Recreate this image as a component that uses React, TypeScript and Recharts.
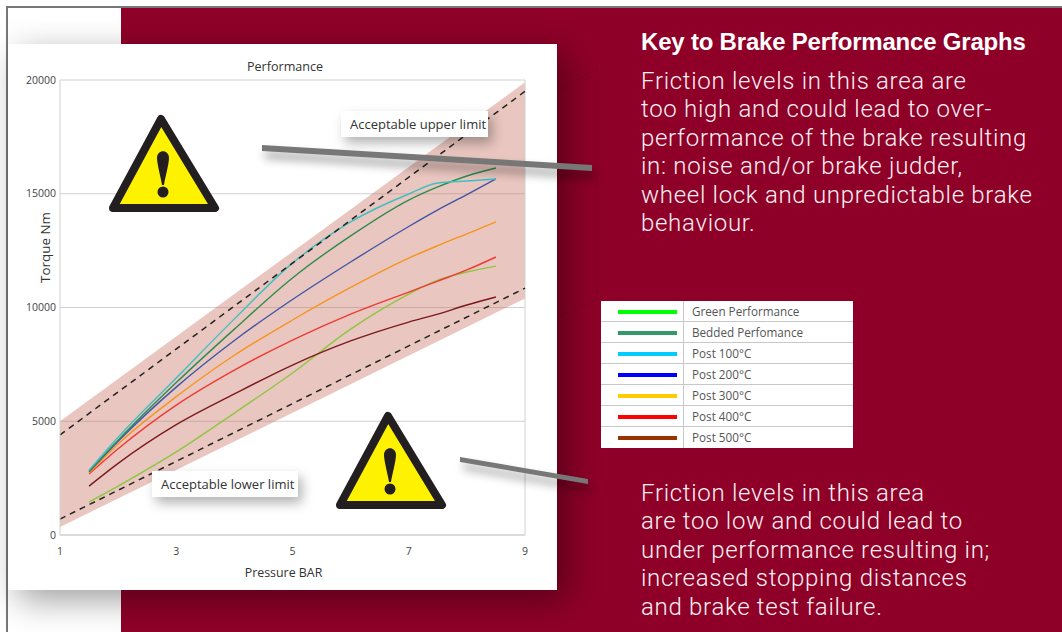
import {
  Area,
  CartesianGrid,
  ComposedChart,
  Line,
  ReferenceLine,
  XAxis,
  YAxis,
} from "recharts";

const MAROON = "#8f0028";
const LABEL_FONT = '"Open Sans", sans-serif';

const pressure = [1.5, 2, 3, 4, 5, 6, 7, 7.5, 8, 8.5];
const bedded = [2800, 4170, 6700, 9050, 11300, 13150, 14725, 15300, 15780, 16130];
const post100 = [2850, 4300, 6900, 9500, 11950, 13760, 14990, 15470, 15560, 15650];
const post200 = [2780, 4120, 6500, 8550, 10350, 12000, 13560, 14290, 14960, 15650];
const post300 = [2720, 4000, 6080, 7900, 9450, 10880, 12170, 12720, 13240, 13760];
const post400 = [2680, 3790, 5710, 7250, 8570, 9710, 10680, 11160, 11650, 12220];
const post500 = [2150, 3150, 4850, 6200, 7470, 8530, 9360, 9710, 10110, 10460];
const green = [1450, 2150, 3650, 5360, 7120, 9050, 10590, 11200, 11560, 11820];

const limitPressure = [1, 9];
const bandTop = [5000, 19900];
const bandBottom = [350, 10400];
const upperLimit = [4400, 19500];
const lowerLimit = [700, 10850];

const xTicks = [1, 3, 5, 7, 9];
const yTicks = [0, 5000, 10000, 15000, 20000];

const curves = [
  { key: "green", values: green, color: "#8dc63f" },
  { key: "post500", values: post500, color: "#7a1a1e" },
  { key: "post400", values: post400, color: "#ee3a33" },
  { key: "post300", values: post300, color: "#f7941e" },
  { key: "post200", values: post200, color: "#3f55a8" },
  { key: "bedded", values: bedded, color: "#2e8b4e" },
  { key: "post100", values: post100, color: "#3fbfc4" },
];

const legendNames = [
  "Green Performance",
  "Bedded Perfomance",
  "Post 100°C",
  "Post 200°C",
  "Post 300°C",
  "Post 400°C",
  "Post 500°C",
];
const legendColors = ["#00ff00", "#339966", "#00ccff", "#0000ff", "#ffcc00", "#ff0000", "#993300"];

const upperText = [
  "Friction levels in this area are",
  "too high and could lead to over-",
  "performance of the brake resulting",
  "in: noise and/or brake judder,",
  "wheel lock and unpredictable brake",
  "behaviour.",
];
const lowerText = [
  "Friction levels in this area",
  "are too low and could lead to",
  "under performance resulting in;",
  "increased stopping distances",
  "and brake test failure.",
];

const curveRows = pressure.map((x, i) => {
  const row: Record<string, number> = { x };
  curves.forEach((c) => {
    row[c.key] = c.values[i];
  });
  return row;
});

const limitRows = limitPressure.map((x, i) => ({
  x,
  band: [bandBottom[i], bandTop[i]],
  upper: upperLimit[i],
  lower: lowerLimit[i],
}));

function WarningSign({ left, top }: { left: number; top: number }) {
  return (
    <svg width={112} height={100} style={{ position: "absolute", left, top }}>
      <polygon
        points="53,5 107,94 5,94"
        fill="#fff200"
        stroke="#231f20"
        strokeWidth={8}
        strokeLinejoin="round"
      />
      <path
        d="M49,44 C49,35 61,35 61,44 C61,50 57,64 56,71 L54,71 C53,64 49,50 49,44 Z"
        fill="#231f20"
      />
      <circle cx={55} cy={78} r={5.5} fill="#231f20" />
    </svg>
  );
}

function LimitLabel({ left, top, width, text }: { left: number; top: number; width: number; text: string }) {
  return (
    <div
      style={{
        position: "absolute",
        left,
        top,
        width,
        height: 26,
        boxSizing: "border-box",
        paddingLeft: 9,
        background: "#fff",
        boxShadow: "4px 6px 12px rgba(0,0,0,0.3)",
        font: `13px/27px ${LABEL_FONT}`,
        color: "#333",
        whiteSpace: "nowrap",
      }}
    >
      {text}
    </div>
  );
}

function Pointer({ points }: { points: string }) {
  return (
    <svg
      width={1062}
      height={632}
      style={{ position: "absolute", left: 0, top: 0, pointerEvents: "none", filter: "drop-shadow(3px 7px 5px rgba(0,0,0,0.4))" }}
    >
      <polygon points={points} fill="#777777" />
    </svg>
  );
}

function TextBlock({ lines, top }: { lines: string[]; top: number }) {
  return (
    <div style={{ position: "absolute", left: 641, top }}>
      {lines.map((line) => (
        <div
          key={line}
          style={{
            font: "300 24px/28.4px Roboto, sans-serif",
            letterSpacing: 0.7,
            color: "#fdf0f3",
            whiteSpace: "nowrap",
          }}
        >
          {line}
        </div>
      ))}
    </div>
  );
}

export default function App() {
  return (
    <div
      style={{
        position: "absolute",
        left: 0,
        top: 0,
        width: 1062,
        height: 632,
        overflow: "hidden",
        background: "#fff",
      }}
    >
      <div style={{ position: "absolute", left: 6, top: 6, right: 0, height: 2, background: "#777" }} />
      <div style={{ position: "absolute", left: 6, top: 6, bottom: 0, width: 2, background: "#777" }} />
      <div style={{ position: "absolute", left: 121, top: 8, right: 0, bottom: 0, background: MAROON }} />
      <svg width={1062} height={632} style={{ position: "absolute", left: 0, top: 0 }}>
        <polyline points="558,92 597,68 597,300 558,316" fill="none" stroke="rgba(0,0,0,0.1)" strokeWidth={1} />
      </svg>

      <div
        style={{
          position: "absolute",
          left: 8,
          top: 44,
          width: 549,
          height: 546,
          background: "#fff",
          boxShadow: "10px 10px 32px rgba(0,0,0,0.38)",
        }}
      >
        <div
          style={{
            position: "absolute",
            left: 0,
            right: 0,
            top: 14,
            paddingLeft: 5,
            textAlign: "center",
            font: `12.6px ${LABEL_FONT}`,
            color: "#333",
          }}
        >
          Performance
        </div>
        <ComposedChart
          width={549}
          height={546}
          margin={{ top: 36, right: 32, bottom: 0, left: 0 }}
        >
          <CartesianGrid stroke="#d0d0d0" vertical={false} horizontalValues={yTicks} />
          <XAxis
            type="number"
            dataKey="x"
            domain={[1, 9]}
            ticks={xTicks}
            height={55}
            tickLine={false}
            axisLine={{ stroke: "#d0d0d0", strokeWidth: 1 }}
            tick={{ fill: "#444", fontSize: 10.5, fontFamily: LABEL_FONT }}
            tickMargin={7}
            label={{
              value: "Pressure BAR",
              position: "insideBottom",
              offset: 13,
              dx: -9,
              fill: "#333",
              fontSize: 12.4,
              fontFamily: LABEL_FONT,
            }}
          />
          <YAxis
            type="number"
            domain={[0, 20000]}
            ticks={yTicks}
            width={52}
            interval={0}
            tickLine={false}
            tickSize={0}
            axisLine={{ stroke: "#d0d0d0", strokeWidth: 1 }}
            tick={{ fill: "#444", fontSize: 10.5, fontFamily: LABEL_FONT }}
            tickMargin={4}
            label={{
              value: "Torque Nm",
              angle: -90,
              position: "center",
              dx: 11,
              dy: -60,
              fill: "#333",
              fontSize: 13.4,
              fontFamily: LABEL_FONT,
            }}
          />
          <ReferenceLine x={9} stroke="#d0d0d0" />
          <Area
            data={limitRows}
            dataKey="band"
            type="linear"
            stroke="none"
            fill="#c8705f"
            fillOpacity={0.4}
            isAnimationActive={false}
          />
          {curves.map((c) => (
            <Line
              key={c.key}
              data={curveRows}
              dataKey={c.key}
              type="monotone"
              stroke={c.color}
              strokeWidth={1.4}
              dot={false}
              isAnimationActive={false}
            />
          ))}
          <Line
            data={limitRows}
            dataKey="upper"
            type="linear"
            stroke="#222"
            strokeWidth={1.5}
            strokeDasharray="6 5"
            dot={false}
            isAnimationActive={false}
          />
          <Line
            data={limitRows}
            dataKey="lower"
            type="linear"
            stroke="#222"
            strokeWidth={1.5}
            strokeDasharray="6 5"
            dot={false}
            isAnimationActive={false}
          />
        </ComposedChart>
      </div>

      <WarningSign left={108} top={114} />
      <WarningSign left={335} top={411} />
      <LimitLabel left={341} top={111} width={147} text="Acceptable upper limit" />
      <LimitLabel left={152} top={471} width={146} text="Acceptable lower limit" />
      <Pointer points="262,145 592,165 592,171 262,151" />
      <Pointer points="460,457 588,479 588,484 460,462" />

      <div
        style={{
          position: "absolute",
          left: 641,
          top: 27,
          font: 'bold 24px/30px "Liberation Sans", sans-serif',
          letterSpacing: -0.2,
          color: "#fff",
          whiteSpace: "nowrap",
        }}
      >
        Key to Brake Performance Graphs
      </div>
      <TextBlock lines={upperText} top={67} />
      <TextBlock lines={lowerText} top={479} />

      <div style={{ position: "absolute", left: 601, top: 301, width: 252, background: "#fff" }}>
        {legendNames.map((name, i) => (
          <div
            key={name}
            style={{
              position: "relative",
              height: 21,
              boxSizing: "border-box",
              borderBottom: i < legendNames.length - 1 ? "1px solid #c8c8c8" : "none",
            }}
          >
            <div
              style={{
                position: "absolute",
                left: 17,
                top: 9,
                width: 59,
                height: 4,
                background: legendColors[i],
              }}
            />
            <div style={{ position: "absolute", left: 82, top: 0, bottom: 0, width: 1, background: "#c8c8c8" }} />
            <div
              style={{
                position: "absolute",
                left: 91,
                top: 0,
                font: `11.7px/21px ${LABEL_FONT}`,
                color: "#555",
                whiteSpace: "nowrap",
              }}
            >
              {name}
            </div>
          </div>
        ))}
      </div>
    </div>
  );
}
